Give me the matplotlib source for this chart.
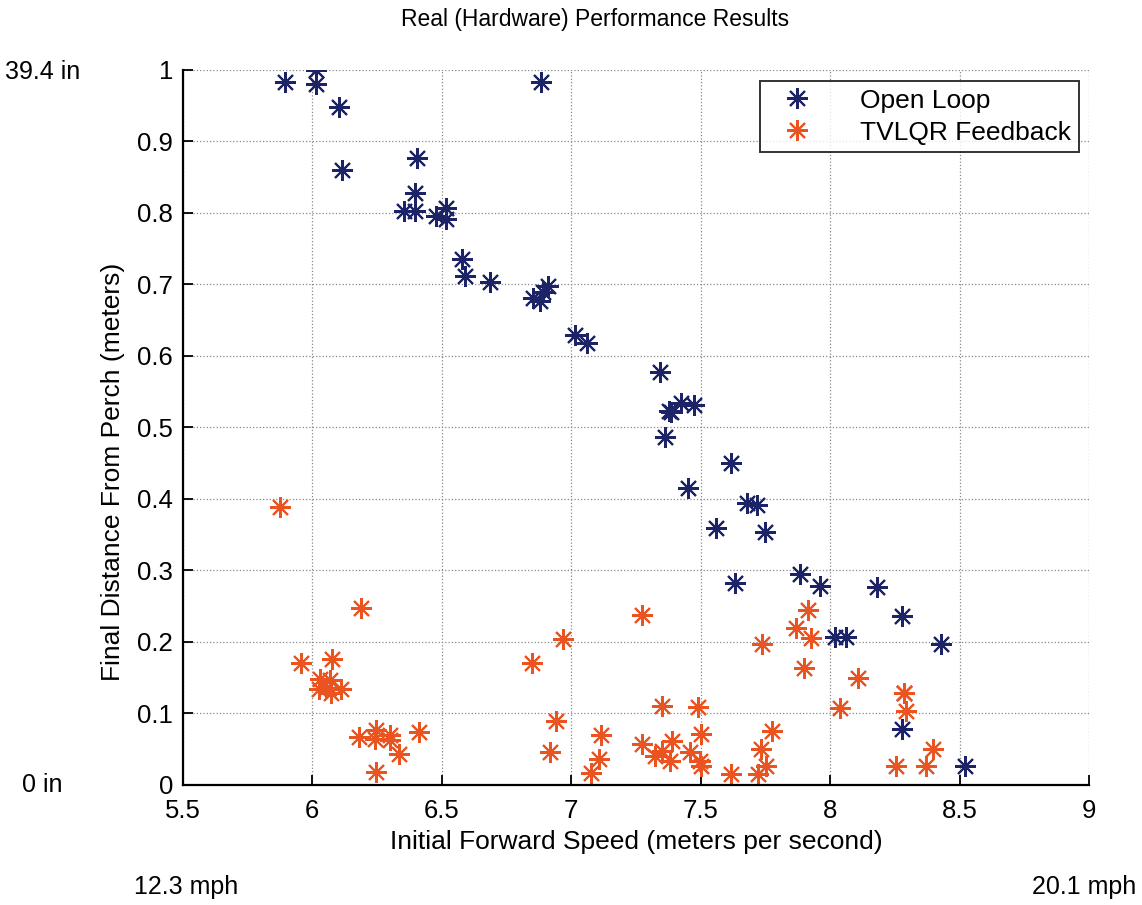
import numpy as np
import matplotlib.pyplot as plt

plt.rcParams['font.family'] = ['Liberation Sans', 'DejaVu Sans']

# Open loop trials: initial speed (m/s), final distance (m)
open_speed = [5.895, 6.014, 6.016, 6.103, 6.115, 6.405, 6.397, 6.354, 6.397, 6.477,
              6.515, 6.518, 6.579, 6.589, 6.686, 6.885, 6.853, 6.879, 6.892, 6.911,
              7.014, 7.063, 7.342, 7.378, 7.387, 7.426, 7.475, 7.362, 7.619, 7.452,
              7.680, 7.716, 7.561, 7.748, 7.883, 7.960, 7.632, 8.182, 8.278, 8.018,
              8.060, 8.427, 8.285, 8.278, 8.523]
open_dist = [0.983, 1.000, 0.980, 0.948, 0.860, 0.877, 0.828, 0.803, 0.803, 0.796,
             0.807, 0.792, 0.735, 0.712, 0.703, 0.983, 0.681, 0.677, 0.690, 0.698,
             0.629, 0.618, 0.578, 0.523, 0.521, 0.534, 0.531, 0.487, 0.451, 0.416,
             0.395, 0.391, 0.360, 0.354, 0.295, 0.279, 0.282, 0.277, 0.237, 0.207,
             0.207, 0.197, 0.128, 0.078, 0.026]

# TVLQR feedback trials
fb_speed = [5.877, 6.190, 5.955, 6.077, 6.029, 6.068, 6.027, 6.055, 6.074, 6.110,
            6.181, 6.248, 6.242, 6.300, 6.302, 6.412, 6.334, 6.248, 7.272, 6.967,
            6.849, 6.943, 6.917, 7.117, 7.107, 7.075, 7.352, 7.490, 7.503, 7.274,
            7.323, 7.349, 7.390, 7.381, 7.458, 7.497, 7.503, 7.619, 7.720, 7.754,
            7.735, 7.774, 7.739, 7.870, 7.915, 7.928, 7.899, 8.038, 8.106, 8.285,
            8.295, 8.398, 8.254, 8.370]
fb_dist = [0.389, 0.248, 0.171, 0.176, 0.148, 0.147, 0.134, 0.135, 0.128, 0.134,
           0.067, 0.077, 0.065, 0.070, 0.063, 0.074, 0.044, 0.018, 0.238, 0.204,
           0.170, 0.089, 0.046, 0.070, 0.036, 0.017, 0.110, 0.109, 0.072, 0.057,
           0.041, 0.048, 0.061, 0.034, 0.046, 0.033, 0.026, 0.016, 0.015, 0.027,
           0.050, 0.076, 0.197, 0.219, 0.245, 0.205, 0.163, 0.107, 0.149, 0.128,
           0.104, 0.051, 0.026, 0.026]

xticks = [5.5, 6, 6.5, 7, 7.5, 8, 8.5, 9]
yticks = [0, 0.1, 0.2, 0.3, 0.4, 0.5, 0.6, 0.7, 0.8, 0.9, 1]
ytick_labels = ['0', '0.1', '0.2', '0.3', '0.4', '0.5', '0.6', '0.7', '0.8', '0.9', '1']

blue = '#1c2366'
orange = '#ea5420'
star = (8, 2, 0)

fig = plt.figure(figsize=(11.42, 9.05), dpi=100)
ax = fig.add_axes([0.160, 0.1326, 0.7936, 0.7901])

ax.plot(open_speed, open_dist, linestyle='none', marker=star, ms=15,
        mec=blue, mew=1.5, color=blue, label='Open Loop')
ax.plot(fb_speed, fb_dist, linestyle='none', marker=star, ms=15,
        mec=orange, mew=1.5, color=orange, label='TVLQR Feedback')

ax.set_xlim(5.5, 9)
ax.set_ylim(0, 1)
ax.set_xticks(xticks)
ax.set_xticklabels([f'{t:g}' for t in xticks])
ax.set_yticks(yticks)
ax.set_yticklabels(ytick_labels)
ax.tick_params(direction='in', length=7, width=1.3, labelsize=18.5)
ax.tick_params(axis='x', pad=10)
ax.tick_params(axis='y', pad=7)

for s in ['top', 'right']:
    ax.spines[s].set_visible(False)
for s in ['left', 'bottom']:
    ax.spines[s].set_linewidth(1.6)

ax.grid(True, linestyle=':', color='#888888', linewidth=0.9)

ax.set_xlabel('Initial Forward Speed (meters per second)', fontsize=19, labelpad=5)
ax.set_ylabel('Final Distance From Perch (meters)', fontsize=19, labelpad=6)
ax.yaxis.set_label_coords(-0.064, 0.438)
ax.set_title('Real (Hardware) Performance Results', fontsize=16.5, pad=32, x=0.455)

leg = ax.legend(loc='upper right', bbox_to_anchor=(0.989, 0.985), borderaxespad=0,
                fontsize=19, frameon=True, fancybox=False, edgecolor='black',
                borderpad=0.3, handletextpad=1.3, labelspacing=0.3, handlelength=2.2)
leg.get_frame().set_linewidth(1.4)

fig.text(5 / 1142, 1 - 72 / 905, '39.4 in', fontsize=18, ha='left', va='center')
fig.text(22 / 1142, 1 - 785 / 905, '0 in', fontsize=18, ha='left', va='center')
fig.text(186 / 1142, 1 - 887 / 905, '12.3 mph', fontsize=18, ha='center', va='center')
fig.text(1136 / 1142, 1 - 887 / 905, '20.1 mph', fontsize=18, ha='right', va='center')

fig.savefig('out.png', dpi=100)
